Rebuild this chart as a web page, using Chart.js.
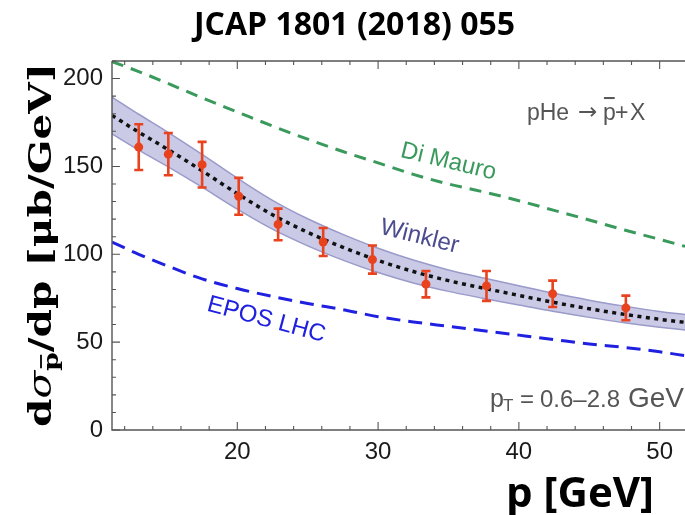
<!DOCTYPE html>
<html>
<head>
<meta charset="utf-8">
<script src="https://cdn.jsdelivr.net/npm/chart.js@4.4.1/dist/chart.umd.min.js"></script>
<style>
  html, body { margin: 0; padding: 0; background: #fff; }
</style>
</head>
<body>
<canvas id="chart" width="685" height="515"></canvas>
<script>
// LHCb pHe -> pbar + X measurement
const dataP = [13.0, 15.1, 17.5, 20.1, 22.9, 26.1, 29.6, 33.4, 37.7, 42.4, 47.6];
const dataSigma = [161, 157, 151, 133, 117, 107, 97, 83, 82, 77.5, 69.5];
const dataErr = [13, 12, 13, 10.5, 9, 8, 8, 7.5, 8.5, 7.5, 7];

// model curves, read on a common momentum grid
const curveP = [11.1, 13, 15, 17.5, 20, 22.5, 25, 27.5, 30, 32.5, 35, 37.5, 40, 42.5, 45, 47.5, 50, 51.8];
const winkler = [179, 169.5, 160, 147.5, 134.5, 122.5, 112.5, 104, 96.5, 90.2, 85, 80.7, 76.6, 72.6, 69, 65.8, 63, 61.3];
const winklerHi = [189.5, 179.7, 169.8, 156.8, 143.3, 130.7, 120.2, 111.3, 103.4, 96.7, 91.1, 86.5, 82.1, 77.8, 73.9, 70.5, 67.5, 65.7];
const winklerLo = [168.5, 159.3, 150.2, 138.2, 125.7, 114.3, 104.8, 96.7, 89.6, 83.7, 78.9, 74.9, 71.1, 67.4, 64.1, 61.1, 58.5, 56.9];
const diMauro = [209.7, 204, 197.5, 189, 181, 173, 165.5, 158.5, 152, 145.5, 140, 135.5, 130.5, 125, 119.5, 113.8, 108.5, 104.5];
const eposLhc = [107, 100, 93.5, 86, 80.5, 76, 72, 68.5, 64.5, 61.5, 59, 56.5, 54, 51.5, 49, 47, 44.5, 42.3];

const xTicks = [20, 30, 40, 50];
const yTicks = [0, 50, 100, 150, 200];

const RED = '#e8431e';
const GREEN = '#3a9a5c';
const BLUE = '#2020e0';
const SLATE = '#4b4b8f';

function pts(ys) {
  return curveP.map((p, i) => ({ x: p, y: ys[i] }));
}

const framePlugin = {
  id: 'frame',
  afterDatasetsDraw(chart) {
    const { ctx, scales: { x, y } } = chart;
    ctx.save();
    ctx.strokeStyle = RED;
    ctx.lineWidth = 2.6;
    dataP.forEach((p, i) => {
      const px = x.getPixelForValue(p);
      const top = y.getPixelForValue(dataSigma[i] + dataErr[i]);
      const bot = y.getPixelForValue(dataSigma[i] - dataErr[i]);
      ctx.beginPath();
      ctx.moveTo(px, top); ctx.lineTo(px, bot);
      ctx.moveTo(px - 4.5, top); ctx.lineTo(px + 4.5, top);
      ctx.moveTo(px - 4.5, bot); ctx.lineTo(px + 4.5, bot);
      ctx.stroke();
    });
    ctx.restore();
  },
  afterDraw(chart) {
    const { ctx, chartArea: a, scales: { x, y } } = chart;
    ctx.save();
    // frame
    ctx.strokeStyle = '#555';
    ctx.lineWidth = 1.4;
    ctx.beginPath();
    ctx.moveTo(a.left, a.top); ctx.lineTo(a.right, a.top);
    ctx.moveTo(a.left, a.top); ctx.lineTo(a.left, a.bottom);
    ctx.lineTo(a.right, a.bottom);
    ctx.stroke();
    // inside ticks
    ctx.lineWidth = 1.1;
    ctx.beginPath();
    for (let v = 12; v <= 50; v += 2) {
      const px = x.getPixelForValue(v);
      const len = v % 10 === 0 ? 8 : 4;
      ctx.moveTo(px, a.bottom); ctx.lineTo(px, a.bottom - len);
      ctx.moveTo(px, a.top); ctx.lineTo(px, a.top + len);
    }
    for (let v = 0; v <= 210; v += 10) {
      const py = y.getPixelForValue(v);
      const len = v % 50 === 0 ? 8 : 4;
      ctx.moveTo(a.left, py); ctx.lineTo(a.left + len, py);
    }
    ctx.stroke();

    // annotations
    const label = (text, px, py, deg, font, color) => {
      ctx.save();
      ctx.translate(x.getPixelForValue(px), y.getPixelForValue(py));
      ctx.rotate(deg * Math.PI / 180);
      ctx.font = font;
      ctx.fillStyle = color;
      ctx.textAlign = 'center';
      ctx.textBaseline = 'middle';
      ctx.fillText(text, 0, 0);
      ctx.restore();
    };
    label('Di Mauro', 35.0, 152.7, 13.6, '24px "Liberation Sans"', GREEN);
    label('Winkler', 32.94, 110, 14, '24px "Liberation Sans"', SLATE);
    label('EPOS LHC', 22.07, 62.7, 15, '24px "Liberation Sans"', BLUE);

    // plain text pieces placed in data coordinates
    const put = (text, px, py, font) => {
      ctx.font = font;
      ctx.fillText(text, x.getPixelForValue(px), y.getPixelForValue(py));
    };
    ctx.fillStyle = '#555';
    ctx.strokeStyle = '#555';
    ctx.textAlign = 'left';
    ctx.textBaseline = 'alphabetic';

    // pHe -> pbar + X
    const f23 = '23px "Liberation Sans"';
    put('pHe', 40.57, 176.4, f23);
    put('\u2192', 44.2, 177, '23px "DejaVu Sans"');
    put('p', 45.97, 176.4, f23);
    put('+', 46.82, 176.4, f23);
    put('X', 47.9, 176.4, f23);
    ctx.font = f23;
    const bx = x.getPixelForValue(45.97);
    const bw = ctx.measureText('p').width;
    const byy = y.getPixelForValue(176.4) - 22;
    ctx.lineWidth = 2;
    ctx.beginPath();
    ctx.moveTo(bx + 1, byy); ctx.lineTo(bx + bw - 1, byy);
    ctx.stroke();

    // pT range
    const f24 = '24px "Liberation Sans"';
    put('p', 37.95, 13.3, '25px "Liberation Sans"');
    put('T', 38.87, 11.0, '17px "Liberation Sans"');
    put('=', 40.08, 13.3, f24);
    put('0.6\u20132.8', 41.5, 13.3, f24);
    put('GeV', 47.75, 13.3, '28px "Liberation Sans"');

    // chart title
    ctx.fillStyle = '#000';
    ctx.textAlign = 'center';
    ctx.font = 'bold 32px "Open Sans"';
    ctx.fillText('JCAP 1801 (2018) 055', 354.5, 35);

    // x axis title
    ctx.font = 'bold 42px "Open Sans"';
    ctx.fillText('p [GeV]', 580, 507);

    // y axis title, rotated
    ctx.save();
    ctx.translate(51, 427);
    ctx.rotate(-Math.PI / 2);
    const parts = [
      { t: 'd', f: 'bold 32px "DejaVu Serif"', dy: 0 },
      { t: '\u03c3', f: 'italic 32px "DejaVu Serif"', dy: 0 },
      { t: 'p', f: 'bold 21px "DejaVu Serif"', dy: 7, bar: true },
      { t: '/dp [\u03bcb/GeV]', f: 'bold 32px "DejaVu Serif"', dy: 0 }
    ];
    let total = 0;
    parts.forEach(pt => { ctx.font = pt.f; pt.w = ctx.measureText(pt.t).width; total += pt.w; });
    ctx.scale(364 / total, 1);
    ctx.textAlign = 'left';
    ctx.fillStyle = '#000';
    ctx.strokeStyle = '#000';
    let lx = 0;
    parts.forEach(pt => {
      ctx.font = pt.f;
      ctx.fillText(pt.t, lx, pt.dy);
      if (pt.bar) {
        ctx.lineWidth = 1.8;
        ctx.beginPath();
        ctx.moveTo(lx + 2, pt.dy - 17); ctx.lineTo(lx + pt.w - 2, pt.dy - 17);
        ctx.stroke();
      }
      lx += pt.w;
    });
    ctx.restore();
    ctx.restore();
  }
};

const tickFont = { family: '"Liberation Sans"', size: 24 };

new Chart(document.getElementById('chart'), {
  type: 'line',
  data: {
    datasets: [
      {
        data: dataP.map((p, i) => ({ x: p, y: dataSigma[i] })),
        showLine: false,
        pointRadius: 4.5,
        pointBackgroundColor: RED,
        pointBorderWidth: 0,
      },
      {
        data: pts(winkler),
        borderColor: '#111',
        borderWidth: 3.5,
        borderDash: [4, 4.5],
        pointRadius: 0,
        cubicInterpolationMode: 'monotone',
      },
      {
        data: pts(diMauro),
        borderColor: GREEN,
        borderWidth: 3,
        borderDash: [12, 8],
        pointRadius: 0,
        cubicInterpolationMode: 'monotone',
      },
      {
        data: pts(eposLhc),
        borderColor: BLUE,
        borderWidth: 3,
        borderDash: [14, 8],
        pointRadius: 0,
        cubicInterpolationMode: 'monotone',
      },
      {
        data: pts(winklerHi),
        borderColor: '#9a9acb',
        borderWidth: 1.5,
        pointRadius: 0,
        cubicInterpolationMode: 'monotone',
      },
      {
        data: pts(winklerLo),
        borderColor: '#9a9acb',
        borderWidth: 1.5,
        backgroundColor: '#cacae6',
        fill: '-1',
        pointRadius: 0,
        cubicInterpolationMode: 'monotone',
      },
    ],
  },
  options: {
    responsive: false,
    animation: false,
    layout: { autoPadding: false, padding: { top: 61, left: 0, right: 0, bottom: 0 } },
    plugins: {
      legend: { display: false },
      tooltip: { enabled: false },
    },
    scales: {
      x: {
        type: 'linear',
        min: 11.1,
        max: 51.8,
        grid: { display: false, drawTicks: false },
        border: { display: false },
        ticks: {
          stepSize: 10,
          includeBounds: false,
          padding: 8,
          maxRotation: 0,
          color: '#1a1a1a',
          font: tickFont,
          callback: v => (xTicks.includes(v) ? String(v) : ''),
        },
        afterFit: s => { s.height = 85; },
      },
      y: {
        min: 0,
        max: 210,
        grid: { display: false, drawTicks: false },
        border: { display: false },
        ticks: {
          stepSize: 50,
          includeBounds: false,
          padding: 9,
          color: '#1a1a1a',
          font: tickFont,
          callback: v => (yTicks.includes(v) ? String(v) : ''),
        },
        afterFit: s => { s.width = 112; },
      },
    },
  },
  plugins: [framePlugin],
});
</script>
</body>
</html>
